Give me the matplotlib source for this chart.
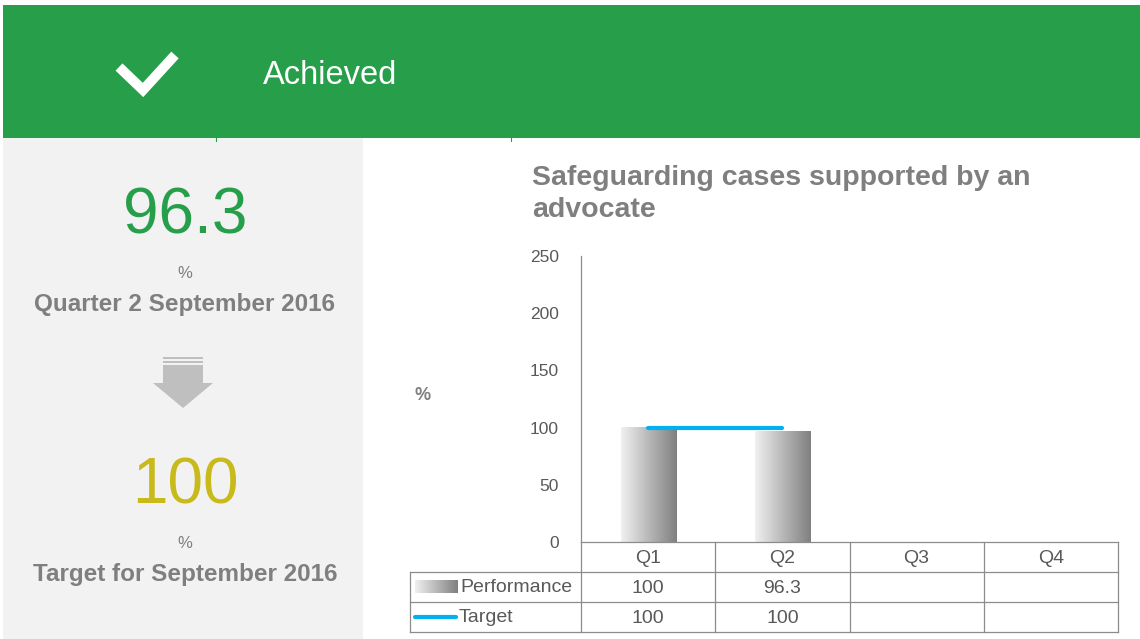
import matplotlib
matplotlib.use("Agg")
import matplotlib.pyplot as plt
import matplotlib.transforms as mtransforms
from matplotlib.patches import Rectangle, Polygon
import numpy as np

plt.rcParams['font.family'] = ['Liberation Sans', 'DejaVu Sans']

# ---- data ----
quarters = ["Q1", "Q2", "Q3", "Q4"]
performance = [100, 96.3, None, None]
target = [100, 100, None, None]
y_ticks = [0, 50, 100, 150, 200, 250]
title = "Safeguarding cases supported by an\nadvocate"
status = "Achieved"
current_value = "96.3"
current_label = "Quarter 2 September 2016"
target_value = "100"
target_label = "Target for September 2016"

W, H = 1140, 639
fig = plt.figure(figsize=(W / 100, H / 100), dpi=100)

# ---- background / decoration axes in pixel coords ----
bg = fig.add_axes([0, 0, 1, 1])
bg.set_xlim(0, W)
bg.set_ylim(H, 0)
bg.axis("off")

green = "#279E4A"
bg.add_patch(Rectangle((3, 5), W - 3, 133, color=green, lw=0))
bg.add_patch(Rectangle((3, 138), 360, H - 138, color="#F2F2F2", lw=0))
for xx in (216, 511):
    bg.plot([xx, xx], [137, 141], color=green, lw=0.8)

# checkmark
bg.plot([119, 143, 175], [67, 90, 55], color="white", lw=7.2,
        solid_joinstyle="miter", solid_capstyle="butt")
bg.text(263, 75, status, color="white", fontsize=23.5, va="center", ha="left")

gray_txt = "#7F7F7F"
bg.text(185, 217, current_value, color=green, fontsize=46, ha="center", va="center")
bg.text(185, 274, "%", color=gray_txt, fontsize=12, ha="center", va="center")
bg.text(185, 304, current_label, color=gray_txt, fontsize=17.5, fontweight="bold",
        ha="center", va="center")

# arrow
arrow_c = "#BFBFBF"
for yy in (357, 361):
    bg.add_patch(Rectangle((163, yy), 40, 2, color=arrow_c, lw=0))
bg.add_patch(Polygon([(163, 365), (203, 365), (203, 383), (213, 383), (183, 408),
                      (153, 383), (163, 383)], closed=True, color=arrow_c, lw=0))

bg.text(185, 487, target_value, color="#C8BA1B", fontsize=46, ha="center", va="center")
bg.text(185, 543, "%", color=gray_txt, fontsize=12, ha="center", va="center")
bg.text(185, 574, target_label, color=gray_txt, fontsize=17.5, fontweight="bold",
        ha="center", va="center")

# title & axis label
bg.text(532, 194, title, color=gray_txt, fontsize=20.5, fontweight="bold",
        ha="left", va="center", linespacing=1.3)
bg.text(423, 396, "%", color=gray_txt, fontsize=13, fontweight="bold",
        ha="center", va="center")

# ---- chart axes ----
left_px, right_px, top_px, bot_px = 581, 1118, 256, 542
ax = fig.add_axes([left_px / W, (H - bot_px) / H, (right_px - left_px) / W,
                   (bot_px - top_px) / H])
ax.set_facecolor("none")
ax.set_xlim(-0.5, len(quarters) - 0.5)
ax.set_ylim(0, 250)
ax.set_yticks(y_ticks)
ax.tick_params(axis="y", length=0, pad=16, labelsize=12.5, labelcolor="#595959")
ax.set_xticks([])
for s in ("top", "right", "bottom"):
    ax.spines[s].set_visible(False)
line_c = "#8C8C8C"
ax.spines["left"].set_color(line_c)
ax.spines["left"].set_linewidth(0.9)

xs = np.arange(len(quarters))
vals = [v if v is not None else 0 for v in performance]
bars = ax.bar(xs, vals, width=0.41, color="none", edgecolor="none")
grad = np.linspace(0.94, 0.5, 256).reshape(1, -1)
for b, v in zip(bars, performance):
    if v is None:
        continue
    x0, w, h = b.get_x(), b.get_width(), b.get_height()
    ax.imshow(grad, extent=[x0, x0 + w, 0, h], aspect="auto", cmap="gray",
              vmin=0, vmax=1, zorder=2, interpolation="bilinear")
ax.set_xlim(-0.5, len(quarters) - 0.5)
ax.set_ylim(0, 250)

tx = [x for x, t in zip(xs, target) if t is not None]
ty = [t for t in target if t is not None]
ax.plot(tx, ty, color="#00B0F0", lw=3, solid_capstyle="round", zorder=3)

# ---- data table below axes ----
trans = mtransforms.blended_transform_factory(ax.transData, ax.transAxes)
row_h = 30 / (bot_px - top_px)
px_per_unit = (right_px - left_px) / len(quarters)
x_left_tab = -0.5 - (left_px - 410) / px_per_unit
kw = dict(color=line_c, lw=0.9, transform=trans, clip_on=False)
ax.plot([-0.5, 3.5], [0, 0], **kw)
for r in (1, 2, 3):
    ax.plot([x_left_tab, 3.5], [-r * row_h, -r * row_h], **kw)
ax.plot([x_left_tab, x_left_tab], [-row_h, -3 * row_h], **kw)
for xb in np.arange(len(quarters) + 1) - 0.5:
    ax.plot([xb, xb], [0, -3 * row_h], **kw)

tcol = "#595959"
fs = 14
off = 1.5 / (bot_px - top_px)
for i, q in enumerate(quarters):
    ax.text(i, -0.5 * row_h - off, q, transform=trans, ha="center", va="center",
            fontsize=fs, color=tcol)
    if performance[i] is not None:
        ax.text(i, -1.5 * row_h - off, f"{performance[i]:g}", transform=trans,
                ha="center", va="center", fontsize=fs, color=tcol)
    if target[i] is not None:
        ax.text(i, -2.5 * row_h - off, f"{target[i]:g}", transform=trans,
                ha="center", va="center", fontsize=fs, color=tcol)

# legend keys in table (pixel coords on bg)
bg.imshow(np.linspace(0.94, 0.5, 256).reshape(1, -1), extent=[415, 458, 593, 580],
          aspect="auto", cmap="gray", vmin=0, vmax=1, interpolation="bilinear")
bg.set_xlim(0, W)
bg.set_ylim(H, 0)
bg.text(460, 588, "Performance", fontsize=fs, color=tcol, ha="left", va="center")
bg.plot([415, 456], [617, 617], color="#00B0F0", lw=3, solid_capstyle="round")
bg.text(459, 618, "Target", fontsize=fs, color=tcol, ha="left", va="center")

fig.savefig("out.png", dpi=100)
